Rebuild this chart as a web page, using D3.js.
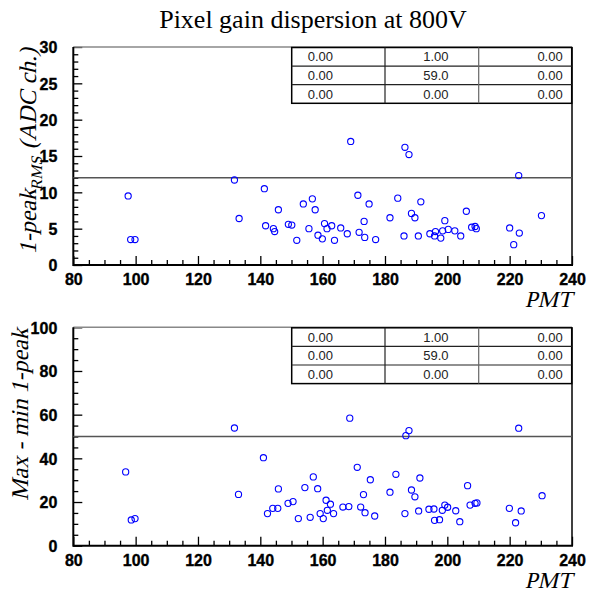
<!DOCTYPE html>
<html><head><meta charset="utf-8">
<script src="https://cdnjs.cloudflare.com/ajax/libs/d3/7.8.5/d3.min.js"></script>
<style>body{margin:0;background:#fff}svg{display:block}</style>
</head><body>
<script>
const chartTitle = "Pixel gain dispersion at 800V";
const xTickValues = [80, 100, 120, 140, 160, 180, 200, 220, 240];
const yTicksRms = [0, 5, 10, 15, 20, 25, 30];
const yTicksMaxMin = [0, 20, 40, 60, 80, 100];
const rmsThreshold = 12;
const maxMinThreshold = 50;
const tableRows = [["0.00", "1.00", "0.00"], ["0.00", "59.0", "0.00"], ["0.00", "0.00", "0.00"]];

const pmtRms = [97.6, 98.4, 99.8, 131.7, 133.2, 141.3, 141.7, 144.2, 144.6, 145.8, 149.0, 150.1, 151.7, 153.8, 155.6, 156.7, 157.6, 158.5, 159.9, 160.6, 161.4, 162.9, 163.8, 165.8, 167.9, 169.0, 171.3, 171.7, 173.3, 173.5, 174.9, 177.0, 181.6, 184.1, 186.1, 186.4, 187.7, 188.5, 189.6, 190.7, 191.5, 194.4, 195.9, 196.2, 197.9, 198.5, 199.2, 200.3, 202.4, 204.3, 206.1, 207.8, 208.9, 209.3, 220.0, 221.3, 222.9, 223.1, 230.2];
const rmsValues = [9.5, 3.5, 3.5, 11.7, 6.4, 10.5, 5.4, 5.0, 4.6, 7.6, 5.6, 5.5, 3.4, 8.4, 5.0, 9.1, 7.6, 4.1, 3.6, 5.7, 5.0, 5.4, 3.4, 5.1, 4.3, 17.0, 9.6, 4.5, 6.0, 3.8, 8.4, 3.5, 6.5, 9.2, 4.0, 16.2, 15.2, 7.1, 6.5, 4.0, 8.7, 4.3, 4.0, 4.6, 3.7, 4.7, 6.1, 4.9, 4.7, 4.0, 7.4, 5.2, 5.3, 5.0, 5.1, 2.8, 12.3, 4.4, 6.8];

const pmtMaxMin = [96.8, 98.6, 99.8, 131.7, 133.0, 141.0, 142.3, 144.0, 145.6, 145.8, 148.9, 150.5, 152.2, 154.3, 156.0, 157.0, 158.4, 159.2, 160.2, 161.1, 161.5, 162.5, 163.5, 166.5, 168.4, 168.7, 171.1, 172.2, 173.1, 173.6, 175.3, 176.7, 181.6, 183.5, 186.4, 186.7, 187.7, 188.5, 189.6, 190.8, 191.2, 194.1, 195.7, 195.9, 197.5, 198.4, 199.2, 200.1, 202.7, 204.0, 206.5, 207.3, 208.9, 209.5, 219.9, 221.9, 222.9, 223.7, 230.4];
const maxMinValues = [33.8, 11.8, 12.4, 53.9, 23.5, 40.3, 14.7, 17.1, 17.1, 26.0, 19.4, 20.2, 12.4, 26.6, 13.0, 31.5, 26.1, 14.7, 12.4, 20.8, 16.2, 19.0, 14.7, 17.7, 17.9, 58.4, 35.9, 17.7, 23.4, 15.1, 30.2, 13.6, 24.5, 32.7, 14.7, 50.4, 52.7, 25.5, 22.4, 15.9, 31.0, 16.7, 16.8, 11.6, 11.9, 16.2, 18.6, 17.6, 16.0, 11.0, 27.5, 18.6, 19.4, 19.6, 17.1, 10.5, 53.8, 15.9, 22.9];

const W = 596, H = 599;
const svg = d3.select("body").append("svg").attr("width", W).attr("height", H);
const serif = "Liberation Serif";
const sans = "Liberation Sans";
const SKEW = -13;

svg.append("text").attr("x", 313).attr("y", 28).attr("text-anchor", "middle")
  .style("font-family", serif).style("font-size", "26px").attr("fill", "#000").text(chartTitle);

const xL = 73.3, xR = 572;
const x = d3.scaleLinear().domain([80, 240]).range([xL, xR]);

function boldLabels(s) {
  s.selectAll("text").style("font-family", sans).style("font-weight", "700")
    .style("font-size", "16px").attr("fill", "#000")
    .attr("stroke", "#000").attr("stroke-width", 0.35);
}

function panel(cfg) {
  const y = d3.scaleLinear().domain(cfg.yDomain).range([cfg.yBot, cfg.yTop]);
  const g = svg.append("g");
  const tickStyle = s => s.selectAll("line").attr("stroke", "#000").attr("stroke-width", 1.3);
  const xMinor = d3.range(80, 240.01, 5).filter(v => v % 20 !== 0);
  g.append("g").attr("transform", `translate(0,${cfg.yBot})`)
    .call(d3.axisTop(x).tickValues(xMinor).tickSize(5).tickFormat(""))
    .call(s => s.select(".domain").remove()).call(tickStyle);
  g.append("g").attr("transform", `translate(0,${cfg.yBot})`)
    .call(d3.axisTop(x).tickValues(xTickValues).tickSize(9).tickFormat(""))
    .call(s => s.select(".domain").remove()).call(tickStyle);
  g.append("g").attr("transform", `translate(0,${cfg.yBot})`)
    .call(d3.axisBottom(x).tickValues(xTickValues).tickSize(0).tickPadding(0).tickFormat(d3.format("d")))
    .call(s => s.select(".domain").remove())
    .call(s => s.selectAll("text").attr("dy", null).attr("y", 20))
    .call(boldLabels);
  const yMinor = d3.range(cfg.yDomain[0], cfg.yDomain[1] + 0.001, cfg.yMinorStep)
    .filter(v => !cfg.yTicks.includes(v));
  g.append("g").attr("transform", `translate(${xL},0)`)
    .call(d3.axisRight(y).tickValues(yMinor).tickSize(5).tickFormat(""))
    .call(s => s.select(".domain").remove()).call(tickStyle);
  g.append("g").attr("transform", `translate(${xL},0)`)
    .call(d3.axisRight(y).tickValues(cfg.yTicks).tickSize(9).tickFormat(""))
    .call(s => s.select(".domain").remove()).call(tickStyle);
  g.append("g").attr("transform", `translate(${xL},0)`)
    .call(d3.axisLeft(y).tickValues(cfg.yTicks).tickSize(0).tickPadding(16).tickFormat(d3.format("d")))
    .call(s => s.select(".domain").remove())
    .call(s => s.selectAll("text").attr("dy", "0.36em"))
    .call(boldLabels);
  // frame
  g.append("line").attr("x1", xL).attr("x2", xR).attr("y1", cfg.yTop).attr("y2", cfg.yTop)
    .attr("stroke", "#888").attr("stroke-width", 1.5);
  g.append("line").attr("x1", xR).attr("x2", xR).attr("y1", cfg.yTop).attr("y2", cfg.yBot)
    .attr("stroke", "#000").attr("stroke-width", 1.5);
  g.append("line").attr("x1", xL).attr("x2", xL).attr("y1", cfg.yTop).attr("y2", cfg.yBot + 1)
    .attr("stroke", "#000").attr("stroke-width", 2);
  g.append("line").attr("x1", xL).attr("x2", xR + 1).attr("y1", cfg.yBot).attr("y2", cfg.yBot)
    .attr("stroke", "#000").attr("stroke-width", 2);
  g.append("line").attr("x1", xL).attr("x2", xR).attr("y1", y(cfg.threshold)).attr("y2", y(cfg.threshold))
    .attr("stroke", "#555").attr("stroke-width", 1.5);
  g.append("g").selectAll("circle").data(cfg.xs.map((v, i) => [v, cfg.ys[i]])).join("circle")
    .attr("cx", d => x(d[0])).attr("cy", d => y(d[1])).attr("r", 3.1)
    .attr("fill", "none").attr("stroke", "#0000ff").attr("stroke-width", 1.1);
  // table
  const tx = [291.7, 385, 478.7, 571.7];
  const rowH = 18.6;
  const t0 = cfg.yTop + 0.5;
  const tg = g.append("g");
  tg.append("rect").attr("x", tx[0]).attr("y", t0).attr("width", tx[3] - tx[0]).attr("height", rowH * 3)
    .attr("fill", "#fff").attr("stroke", "#000").attr("stroke-width", 1.5);
  [1, 2].forEach(r => tg.append("line").attr("x1", tx[0]).attr("x2", tx[3])
    .attr("y1", t0 + r * rowH).attr("y2", t0 + r * rowH).attr("stroke", "#222").attr("stroke-width", 1.2));
  tg.append("line").attr("x1", tx[1]).attr("x2", tx[1]).attr("y1", t0).attr("y2", t0 + 3 * rowH)
    .attr("stroke", "#222").attr("stroke-width", 1.2);
  tg.append("line").attr("x1", tx[2]).attr("x2", tx[2]).attr("y1", t0).attr("y2", t0 + 3 * rowH)
    .attr("stroke", "#666").attr("stroke-width", 1.2);
  tableRows.forEach((row, r) => {
    const cy = t0 + r * rowH + rowH / 2;
    const place = [[tx[0] + 16, "start"], [(tx[1] + tx[2]) / 2 + 4, "middle"], [tx[3] - 9, "end"]];
    row.forEach((txt, c) => tg.append("text").attr("x", place[c][0]).attr("y", cy).attr("dy", "0.36em")
      .attr("text-anchor", place[c][1]).style("font-family", sans).style("font-size", "13px").attr("fill", "#222").text(txt));
  });
  // x title (slanted serif)
  g.append("text").attr("transform", `translate(${xR},${cfg.yBot + 42}) skewX(${SKEW})`).attr("text-anchor", "end")
    .style("font-family", serif).style("font-size", "23px").text("PMT");
  // y title
  const yt = g.append("text").attr("transform", `translate(${cfg.yTitleX},${cfg.yTop + 1}) rotate(-90) skewX(${SKEW})`)
    .attr("text-anchor", "end").style("font-family", serif).style("font-size", cfg.yTitleSize + "px");
  cfg.yTitle(yt);
}

panel({
  yTop: 47, yBot: 265, yDomain: [0, 30], yTicks: yTicksRms, yMinorStep: 1, threshold: rmsThreshold,
  xs: pmtRms, ys: rmsValues, yTitleX: 36, yTitleSize: 24,
  yTitle: t => {
    t.append("tspan").text("1-peak");
    t.append("tspan").style("font-size", "16px").attr("dy", 6).text("RMS");
    t.append("tspan").attr("dy", -6).text(" (ADC ch.)");
  }
});
panel({
  yTop: 327.3, yBot: 545.7, yDomain: [0, 100], yTicks: yTicksMaxMin, yMinorStep: 5, threshold: maxMinThreshold,
  xs: pmtMaxMin, ys: maxMinValues, yTitleX: 28, yTitleSize: 24,
  yTitle: t => t.text("Max - min 1-peak")
});
</script>
</body></html>
